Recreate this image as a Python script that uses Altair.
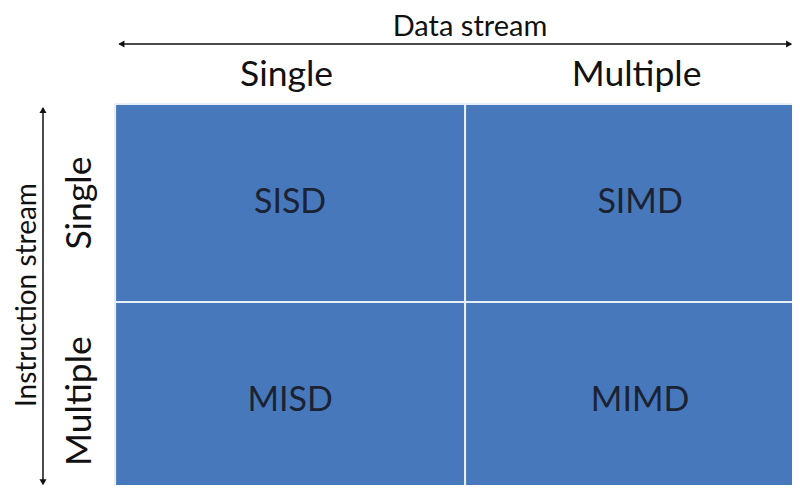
import altair as alt
import pandas as pd

# --- data ---
col_labels = ["Single", "Multiple"]
row_labels = ["Single", "Multiple"]
cell_codes = [["SISD", "SIMD"], ["MISD", "MIMD"]]
x_title = "Data stream"
y_title = "Instruction stream"

cells = pd.DataFrame([
    {"col": c, "row": r, "code": cell_codes[r][c]}
    for r in range(2) for c in range(2)
])
cells["x2"] = cells["col"] + 1
cells["y2"] = cells["row"] + 1
cells["cx"] = cells["col"] + 0.5
cells["cy"] = cells["row"] + 0.5

cols = pd.DataFrame({"label": col_labels, "x": [0.49, 0.49 + 1], "y": [-0.146, -0.146]})
rows = pd.DataFrame({"label": row_labels, "y": [i + 0.5 for i in range(2)], "x": [-0.1, -0.1]})

W, H = 784, 477
xs = alt.Scale(domain=[-0.306, 1.934], nice=False, zero=False)
ys = alt.Scale(domain=[-0.485, 1.924], nice=False, zero=False, reverse=True)
FONT = "Lato"
BLUE = "#4878BC"
INK = "#111111"

def X(f):
    return alt.X(f, type="quantitative", scale=xs, axis=None)

def Y(f):
    return alt.Y(f, type="quantitative", scale=ys, axis=None)

rects = alt.Chart(cells).mark_rect(fill=BLUE, stroke="#e8eef7", strokeWidth=2, clip=True).encode(
    x=X("col"), x2="x2", y=Y("row"), y2="y2"
)
codes = alt.Chart(cells).mark_text(font=FONT, fontSize=34, color="#1b2333").encode(
    x=X("cx"), y=Y("cy"), text="code:N"
)
col_text = alt.Chart(cols).mark_text(font=FONT, fontSize=35.5, color=INK).encode(
    x=X("x"), y=Y("y"), text="label:N"
)
row_text = alt.Chart(rows).mark_text(font=FONT, fontSize=35.5, color=INK, angle=270).encode(
    x=X("x"), y=Y("y"), text="label:N"
)

ttl = pd.DataFrame({"t": [x_title], "x": [1.014], "y": [-0.39]})
x_ttl = alt.Chart(ttl).mark_text(font=FONT, fontSize=29, color=INK).encode(
    x=X("x"), y=Y("y"), text="t:N"
)
yttl = pd.DataFrame({"t": [y_title], "x": [-0.249], "y": [0.965]})
y_ttl = alt.Chart(yttl).mark_text(font=FONT, fontSize=28, color=INK, angle=270).encode(
    x=X("x"), y=Y("y"), text="t:N"
)

harrow = pd.DataFrame({"x": [0.012], "x2": [1.93], "y": [-0.303]})
h_line = alt.Chart(harrow).mark_rule(color=INK, strokeWidth=1.5).encode(
    x=X("x"), x2="x2", y=Y("y")
)
hheads = pd.DataFrame({"x": [0.018, 1.926], "y": [-0.303, -0.303], "s": ["triangle-left", "triangle-right"]})
h_heads = alt.Chart(hheads).mark_point(filled=True, color=INK, size=50, opacity=1).encode(
    x=X("x"), y=Y("y"), shape=alt.Shape("s:N", scale=None)
)

varrow = pd.DataFrame({"x": [-0.206], "y": [0.02], "y2": [1.915]})
v_line = alt.Chart(varrow).mark_rule(color=INK, strokeWidth=1.5).encode(
    x=X("x"), y=Y("y"), y2="y2"
)
vheads = pd.DataFrame({"x": [-0.206, -0.206], "y": [0.03, 1.91], "s": ["triangle-up", "triangle-down"]})
v_heads = alt.Chart(vheads).mark_point(filled=True, color=INK, size=50, opacity=1).encode(
    x=X("x"), y=Y("y"), shape=alt.Shape("s:N", scale=None)
)

chart = alt.layer(
    rects, codes, col_text, row_text, x_ttl, y_ttl, h_line, h_heads, v_line, v_heads
).properties(
    width=W, height=H, autosize=alt.AutoSizeParams(type="none"), padding=0
).configure(background="white").configure_view(stroke=None)

chart.save("out.html", embed_options={"renderer": "svg", "actions": False})
